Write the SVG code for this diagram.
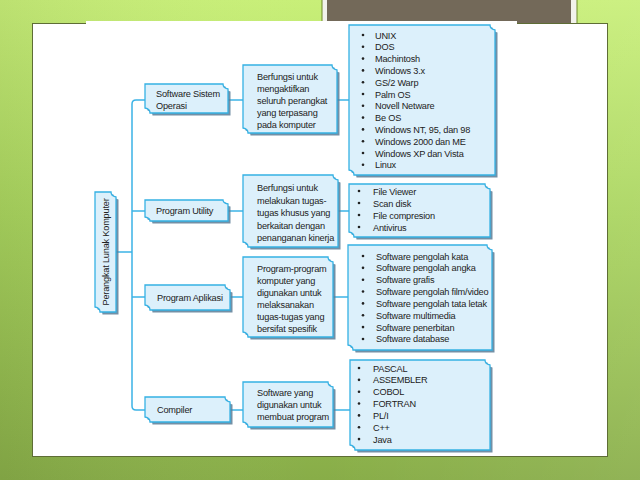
<svg xmlns="http://www.w3.org/2000/svg" width="640" height="480" viewBox="0 0 640 480">
<defs>
<linearGradient id="bg" x1="0" y1="0" x2="0" y2="1">
<stop offset="0" stop-color="#c8ef78"/>
<stop offset="0.45" stop-color="#a9d45e"/>
<stop offset="1" stop-color="#88ad48"/>
</linearGradient>
<linearGradient id="bgh" x1="0" y1="0" x2="1" y2="0">
<stop offset="0" stop-color="#000" stop-opacity="0.06"/>
<stop offset="0.5" stop-color="#fff" stop-opacity="0"/>
<stop offset="1" stop-color="#fff" stop-opacity="0.08"/>
</linearGradient>
</defs>
<style>
.box{fill:#dcf0fb;stroke:#35b1e4;stroke-width:1.3}
.sh{fill:#5a7d96;opacity:0.85}
.con{fill:none;stroke:#3bb3e6;stroke-width:1.5}
text{font-family:"Liberation Sans Narrow","Liberation Sans",Arial,sans-serif;font-size:9.2px;letter-spacing:-0.2px;fill:#222}
.b{fill:#222}
</style>
<rect x="0" y="0" width="640" height="480" fill="url(#bg)"/>
<rect x="0" y="0" width="640" height="480" fill="url(#bgh)"/>
<g id="title-box">
<rect x="322" y="-2" width="255" height="49" fill="#f2f2ec" stroke="#6f8a2a" stroke-width="1"/>
<rect x="327" y="-2" width="244" height="44" fill="#736959"/>
</g>
<g id="panel">
<rect x="32.5" y="23.5" width="575" height="433" fill="#ffffff" stroke="#5e6d35" stroke-width="1"/>
<rect x="86" y="21" width="431" height="435" fill="#ffffff"/>
</g>
<g id="connectors">
<path class="con" d="M116,252 H132"/>
<path class="con" d="M145,100 H136 Q132,100 132,104 V406 Q132,410 136,410 H145"/>
<path class="con" d="M132,211 H145"/>
<path class="con" d="M132,297 H145"/>
<path class="con" d="M228,100 H243"/>
<path class="con" d="M228,211 H243"/>
<path class="con" d="M230,297 H243"/>
<path class="con" d="M230,410 H243"/>
<path class="con" d="M337,100 H349"/>
<path class="con" d="M338,211 H349"/>
<path class="con" d="M333,297 H348"/>
<path class="con" d="M333,410 H350"/>
</g>
<g id="root">
<path class="sh" transform="translate(2.5,2.5)" d="M95,192 H111 Q111,196 116,197 V312 H100 Q100,308 95,307 Z"/>
<path class="box" d="M95,192 H111 Q111,196 116,197 V312 H100 Q100,308 95,307 Z"/>
<text transform="translate(108.5,252) rotate(-90)" text-anchor="middle">Perangkat Lunak Komputer</text>
</g>
<g id="n-sso">
<path class="sh" transform="translate(2.5,2.5)" d="M145,84 H223 Q223,88 228,89 V113 H150 Q150,109 145,108 Z"/>
<path class="box" d="M145,84 H223 Q223,88 228,89 V113 H150 Q150,109 145,108 Z"/>
<text x="156" y="97">Software Sistem<tspan x="156" y="109">Operasi</tspan></text>
</g>
<g id="n-util">
<path class="sh" transform="translate(2.5,2.5)" d="M145,200 H223 Q223,203 228,204 V221 H150 Q150,218 145,217 Z"/>
<path class="box" d="M145,200 H223 Q223,203 228,204 V221 H150 Q150,218 145,217 Z"/>
<text x="156" y="214">Program Utility</text>
</g>
<g id="n-apl">
<path class="sh" transform="translate(2.5,2.5)" d="M145,285 H225 Q225,289 230,290 V310 H150 Q150,306 145,305 Z"/>
<path class="box" d="M145,285 H225 Q225,289 230,290 V310 H150 Q150,306 145,305 Z"/>
<text x="157" y="301">Program Aplikasi</text>
</g>
<g id="n-comp">
<path class="sh" transform="translate(2.5,2.5)" d="M145,397 H225 Q225,401 230,402 V422 H150 Q150,418 145,417 Z"/>
<path class="box" d="M145,397 H225 Q225,401 230,402 V422 H150 Q150,418 145,417 Z"/>
<text x="157" y="413">Compiler</text>
</g>
<g id="d-sso">
<path class="sh" transform="translate(2.5,2.5)" d="M243,65 H332 Q332,69 337,70 V133 H248 Q248,129 243,128 Z"/>
<path class="box" d="M243,65 H332 Q332,69 337,70 V133 H248 Q248,129 243,128 Z"/>
<text x="257" y="79.5">Berfungsi untuk<tspan x="257" y="91.5">mengaktifkan</tspan><tspan x="257" y="103.5">seluruh perangkat</tspan><tspan x="257" y="115.5">yang terpasang</tspan><tspan x="257" y="127.5">pada komputer</tspan></text>
</g>
<g id="d-util">
<path class="sh" transform="translate(2.5,2.5)" d="M243,175 H333 Q333,179 338,180 V247 H248 Q248,243 243,242 Z"/>
<path class="box" d="M243,175 H333 Q333,179 338,180 V247 H248 Q248,243 243,242 Z"/>
<text x="257" y="191">Berfungsi untuk<tspan x="257" y="203.5">melakukan tugas-</tspan><tspan x="257" y="216">tugas khusus yang</tspan><tspan x="257" y="228.5">berkaitan dengan</tspan><tspan x="257" y="241">penanganan kinerja</tspan></text>
</g>
<g id="d-apl">
<path class="sh" transform="translate(2.5,2.5)" d="M243,257 H328 Q328,261 333,262 V337 H248 Q248,333 243,332 Z"/>
<path class="box" d="M243,257 H328 Q328,261 333,262 V337 H248 Q248,333 243,332 Z"/>
<text x="257" y="271.5">Program-program<tspan x="257" y="283.5">komputer yang</tspan><tspan x="257" y="295.5">digunakan untuk</tspan><tspan x="257" y="307.5">melaksanakan</tspan><tspan x="257" y="319.5">tugas-tugas yang</tspan><tspan x="257" y="331.5">bersifat spesifik</tspan></text>
</g>
<g id="d-comp">
<path class="sh" transform="translate(2.5,2.5)" d="M243,382 H328 Q328,386 333,387 V427 H248 Q248,423 243,422 Z"/>
<path class="box" d="M243,382 H328 Q328,386 333,387 V427 H248 Q248,423 243,422 Z"/>
<text x="257" y="395.5">Software yang<tspan x="257" y="407.5">digunakan untuk</tspan><tspan x="257" y="419.5">membuat program</tspan></text>
</g>
<g id="l-sso">
<path class="sh" transform="translate(2.5,2.5)" d="M349,25 H490 Q490,29 495,30 V175 H354 Q354,171 349,170 Z"/>
<path class="box" d="M349,25 H490 Q490,29 495,30 V175 H354 Q354,171 349,170 Z"/>
<g class="b"><circle cx="363" cy="35" r="1.3"/><circle cx="363" cy="46.8" r="1.3"/><circle cx="363" cy="58.6" r="1.3"/><circle cx="363" cy="70.4" r="1.3"/><circle cx="363" cy="82.2" r="1.3"/><circle cx="363" cy="94" r="1.3"/><circle cx="363" cy="105.8" r="1.3"/><circle cx="363" cy="117.6" r="1.3"/><circle cx="363" cy="129.4" r="1.3"/><circle cx="363" cy="141.2" r="1.3"/><circle cx="363" cy="153" r="1.3"/><circle cx="363" cy="164.8" r="1.3"/></g>
<text x="375" y="38.5">UNIX<tspan x="375" y="50.3">DOS</tspan><tspan x="375" y="62.1">Machintosh</tspan><tspan x="375" y="73.9">Windows 3.x</tspan><tspan x="375" y="85.7">GS/2 Warp</tspan><tspan x="375" y="97.5">Palm OS</tspan><tspan x="375" y="109.3">Novell Netware</tspan><tspan x="375" y="121.1">Be OS</tspan><tspan x="375" y="132.9">Windows NT, 95, dan 98</tspan><tspan x="375" y="144.7">Windows 2000 dan ME</tspan><tspan x="375" y="156.5">Windows XP dan Vista</tspan><tspan x="375" y="168.3">Linux</tspan></text>
</g>
<g id="l-util">
<path class="sh" transform="translate(2.5,2.5)" d="M349,184 H485 Q485,188 490,189 V237 H354 Q354,233 349,232 Z"/>
<path class="box" d="M349,184 H485 Q485,188 490,189 V237 H354 Q354,233 349,232 Z"/>
<g class="b"><circle cx="359" cy="191" r="1.3"/><circle cx="359" cy="203" r="1.3"/><circle cx="359" cy="215" r="1.3"/><circle cx="359" cy="227" r="1.3"/></g>
<text x="373" y="194.5">File Viewer<tspan x="373" y="206.5">Scan disk</tspan><tspan x="373" y="218.5">File compresion</tspan><tspan x="373" y="230.5">Antivirus</tspan></text>
</g>
<g id="l-apl">
<path class="sh" transform="translate(2.5,2.5)" d="M348,245 H487 Q487,249 492,250 V350 H353 Q353,346 348,345 Z"/>
<path class="box" d="M348,245 H487 Q487,249 492,250 V350 H353 Q353,346 348,345 Z"/>
<g class="b"><circle cx="363" cy="256" r="1.3"/><circle cx="363" cy="267.85" r="1.3"/><circle cx="363" cy="279.7" r="1.3"/><circle cx="363" cy="291.55" r="1.3"/><circle cx="363" cy="303.4" r="1.3"/><circle cx="363" cy="315.25" r="1.3"/><circle cx="363" cy="327.1" r="1.3"/><circle cx="363" cy="338.95" r="1.3"/></g>
<text x="376" y="259.5">Software pengolah kata<tspan x="376" y="271.35">Software pengolah angka</tspan><tspan x="376" y="283.2">Software grafis</tspan><tspan x="376" y="295.05">Software pengolah film/video</tspan><tspan x="376" y="306.9">Software pengolah tata letak</tspan><tspan x="376" y="318.75">Software multimedia</tspan><tspan x="376" y="330.6">Software penerbitan</tspan><tspan x="376" y="342.45">Software database</tspan></text>
</g>
<g id="l-comp">
<path class="sh" transform="translate(2.5,2.5)" d="M350,360 H485 Q485,364 490,365 V450 H355 Q355,446 350,445 Z"/>
<path class="box" d="M350,360 H485 Q485,364 490,365 V450 H355 Q355,446 350,445 Z"/>
<g class="b"><circle cx="359" cy="368" r="1.3"/><circle cx="359" cy="379.85" r="1.3"/><circle cx="359" cy="391.7" r="1.3"/><circle cx="359" cy="403.55" r="1.3"/><circle cx="359" cy="415.4" r="1.3"/><circle cx="359" cy="427.25" r="1.3"/><circle cx="359" cy="439.1" r="1.3"/></g>
<text x="373" y="371.5">PASCAL<tspan x="373" y="383.35">ASSEMBLER</tspan><tspan x="373" y="395.2">COBOL</tspan><tspan x="373" y="407.05">FORTRAN</tspan><tspan x="373" y="418.9">PL/I</tspan><tspan x="373" y="430.75">C++</tspan><tspan x="373" y="442.6">Java</tspan></text>
</g>
</svg>
